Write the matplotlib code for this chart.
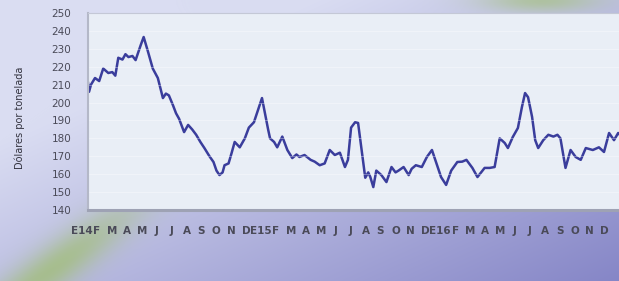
import numpy as np
import matplotlib
matplotlib.use("Agg")
import matplotlib.pyplot as plt
import matplotlib.transforms as mtransforms

# posición en meses desde enero 2014 y precio (dólares por tonelada)
meses = [0.00, 0.07, 0.20, 0.47, 0.75, 1.02, 1.36, 1.63, 1.83, 2.03, 2.31, 2.51,
         2.71, 2.98, 3.19, 3.53, 3.73, 4.00, 4.34, 4.68, 5.02, 5.22, 5.42, 5.69,
         5.90, 6.10, 6.44, 6.71, 6.98, 7.25, 7.53, 7.80, 8.14, 8.41, 8.61, 8.81,
         9.02, 9.15, 9.42, 9.63, 9.83, 10.17, 10.51, 10.78, 11.12, 11.46, 11.66,
         11.86, 12.07, 12.20, 12.47, 12.68, 13.02, 13.36, 13.69, 13.97, 14.17,
         14.51, 14.92, 15.19, 15.53, 15.86, 16.20, 16.54, 16.88, 17.22, 17.42,
         17.63, 17.90, 18.10, 18.31, 18.58, 18.78, 18.92, 19.12, 19.32, 19.66,
         20.00, 20.34, 20.61, 20.81, 21.15, 21.49, 21.69, 21.97, 22.37, 22.71,
         23.05, 23.39, 23.66, 24.00, 24.34, 24.75, 25.08, 25.36, 25.76, 26.10,
         26.58, 26.92, 27.25, 27.59, 27.93, 28.14, 28.47, 28.81, 29.08, 29.29,
         29.49, 29.76, 29.97, 30.17, 30.51, 30.85, 31.19, 31.46, 31.66, 32.00,
         32.34, 32.68, 33.02, 33.36, 33.83, 34.24, 34.58, 34.92, 35.25, 35.53,
         35.86, 36.00]
precio = [211, 206, 210, 213.7, 212, 219, 216.5, 217, 215, 225, 224, 227,
          225.4, 226, 223.7, 232, 236.6, 229, 219, 213.7, 202.5, 205, 204, 198.6,
          194, 191, 183.5, 187.5, 185, 182, 178, 174.6, 170, 166.8, 162, 159.5,
          161, 165, 166, 172, 178, 175, 180, 186, 189, 197.5, 202.5,
          194, 185, 180, 178, 175, 181, 173.5, 169, 171, 169.6,
          170.7, 168, 167, 165, 166, 173.5, 170.7, 172, 164, 168,
          186, 189, 188.6, 175, 158, 161, 158.4, 152.8, 162, 159.5,
          155.6, 164, 161, 162, 164, 159.5, 163, 165, 164, 169.6,
          173.5, 165, 158.4, 154, 162, 166.8, 167, 168, 163.5, 158.4,
          163.5, 163.5, 164, 180, 177.4, 174.6, 180.8, 185.8, 197.5, 205.3,
          203, 192, 179, 174.6, 179, 182, 181, 182, 180, 163.5,
          173.5, 169.6, 168, 174.6, 173.5, 175, 172.4, 183, 179, 183,
          180, 179]

etiquetas = ["E14", "F", "M", "A", "M", "J", "J", "A", "S", "O", "N", "D",
             "E15", "F", "M", "A", "M", "J", "J", "A", "S", "O", "N", "D",
             "E16", "F", "M", "A", "M", "J", "J", "A", "S", "O", "N", "D"]
yticks = list(range(140, 260, 10))

W, H = 619, 281
fig = plt.figure(figsize=(W / 100, H / 100), dpi=100)

# fondo degradado
bg = fig.add_axes([0, 0, 1, 1])
yy, xx = np.mgrid[0:H, 0:W]
t = np.clip((xx / W) * 0.6 + (yy / H) * 0.6 - 0.3, 0, 1)[..., None]
c1 = np.array([218, 221, 242]) / 255
c2 = np.array([124, 124, 194]) / 255
img = c1 * (1 - t) + c2 * t
green = np.array([160, 190, 115]) / 255
u = (xx - 50) * 0.8 + (yy - 270) * -0.6
v = (xx - 50) * 0.6 + (yy - 270) * 0.8
g1 = np.exp(-(u / 110) ** 2 - (v / 22) ** 2)[..., None] * 0.75
g2 = np.exp(-((xx - 540) / 60) ** 2 - (yy / 12) ** 2)[..., None] * 0.6
img = img * (1 - g1) + green * g1
img = img * (1 - g2) + green * g2
bg.imshow(img, aspect="auto", extent=[0, W, H, 0])
bg.axis("off")

ax = fig.add_axes([88 / W, 1 - 210 / H, 1 - 88 / W + 0.01, 197 / H])
ax.set_facecolor("#e9eef6")
ax.plot(meses, precio, color="#3a3d9c", linewidth=1.8, solid_joinstyle="round")
ax.set_xlim(0, 36)
ax.set_ylim(140, 250)
ax.set_yticks(yticks)
ax.tick_params(axis="y", length=0, pad=12, labelsize=7.5, labelcolor="#4a4a58")
ax.set_xticks([])
for y in yticks[1:-1]:
    ax.axhline(y, color="white", linewidth=0.6, alpha=0.4)

ax.spines["right"].set_visible(False)
ax.spines["top"].set_color("#c4c8d6")
ax.spines["left"].set_color("#b4b8c8")
ax.spines["left"].set_linewidth(1.5)
ax.spines["bottom"].set_color("#9ea2b4")
ax.spines["bottom"].set_linewidth(2.2)

trans = mtransforms.blended_transform_factory(ax.transData, ax.transAxes)
for i, lab in enumerate(etiquetas):
    ax.text(i - 0.4, -0.107, lab, transform=trans, ha="center", va="center",
            fontsize=7.5, fontweight="bold", color="#4a4a58", clip_on=False)

fig.text(20 / W, 1 - 118 / H, "Dólares por tonelada", rotation=90,
         ha="center", va="center", fontsize=7, color="#33333f")

fig.savefig("out.png", dpi=100)
